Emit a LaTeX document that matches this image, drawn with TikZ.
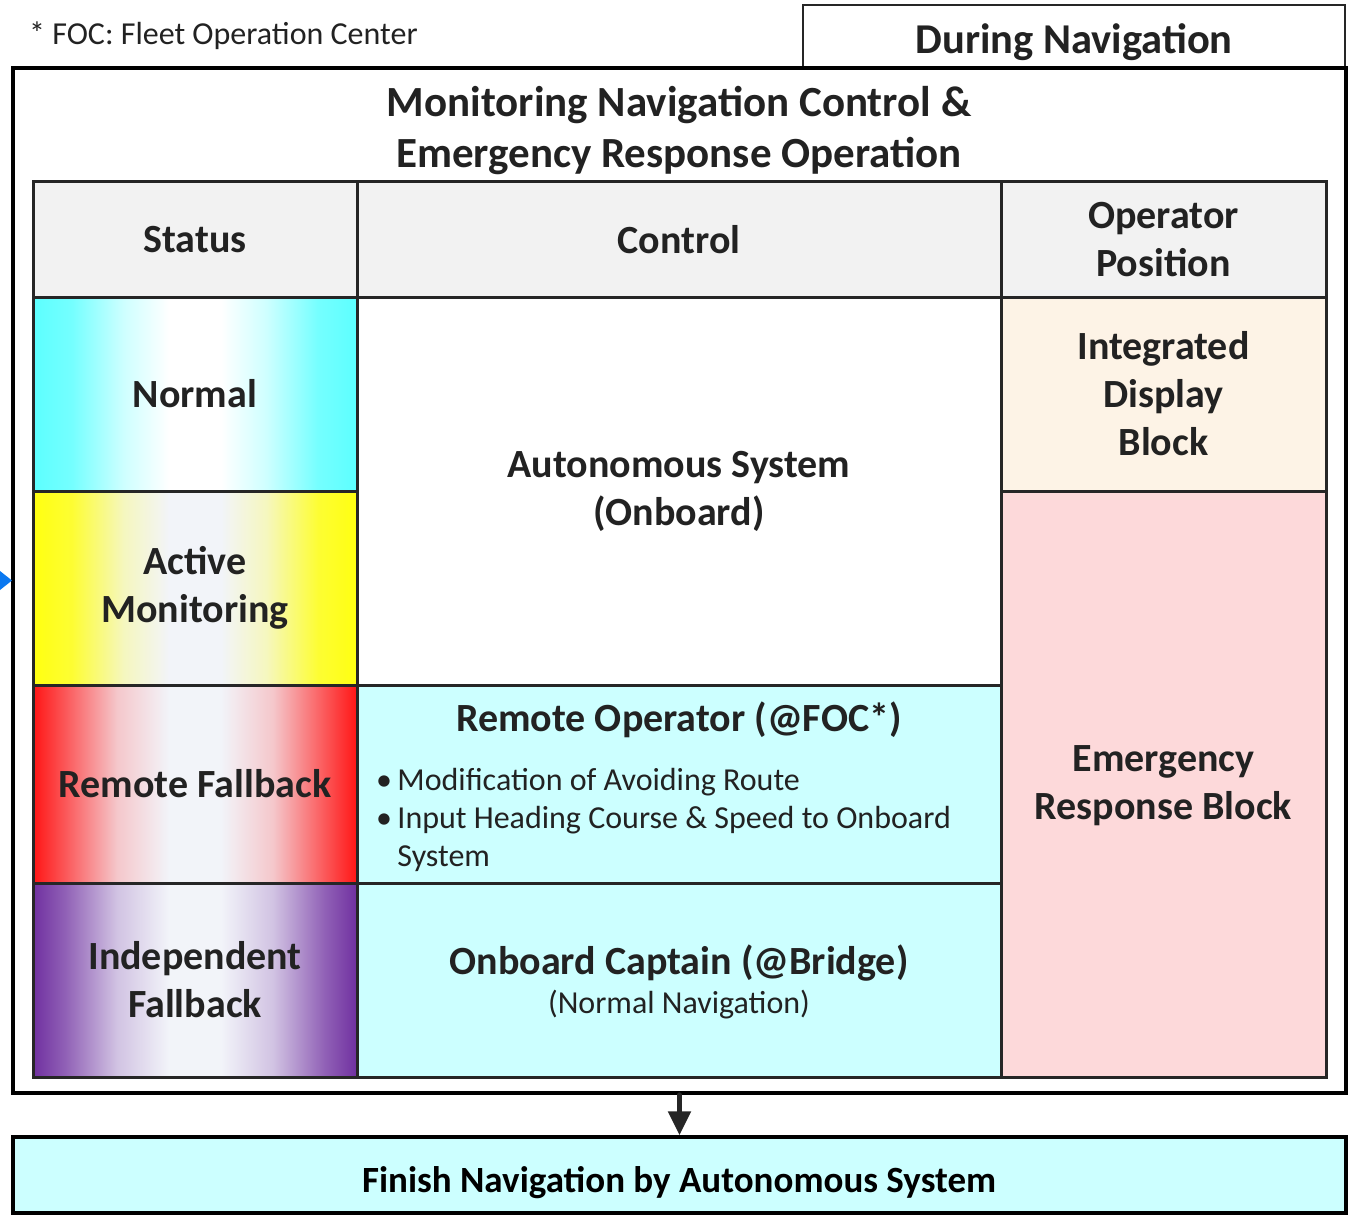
\documentclass[tikz,border=0pt]{standalone}
\usepackage{fontspec}
\setmainfont{Carlito}
\usetikzlibrary{arrows.meta}

\definecolor{txt}{HTML}{222222}
\definecolor{gridcol}{HTML}{262626}
\definecolor{hdrfill}{HTML}{F2F2F2}
\definecolor{aqua}{HTML}{CCFFFF}
\definecolor{peach}{HTML}{FDF3E6}
\definecolor{pinkfill}{HTML}{FDD9DA}
\definecolor{cyanedge}{HTML}{5CFFFF}
\definecolor{yellowedge}{HTML}{FFFF10}
\definecolor{rededge}{HTML}{FF1515}
\definecolor{purpleedge}{HTML}{7030A0}
\definecolor{paleblue}{HTML}{F2F4F9}
\definecolor{tipblue}{HTML}{0A78F0}

% horizontal fades: strong colour at both edges, pale in the middle
\pgfdeclarehorizontalshading{normalfade}{100bp}{color(0bp)=(cyanedge); color(25bp)=(cyanedge); color(31bp)=(cyanedge!85!white); color(39bp)=(cyanedge!30!white); color(46bp)=(white); color(54bp)=(white); color(61bp)=(cyanedge!30!white); color(69bp)=(cyanedge!85!white); color(75bp)=(cyanedge); color(100bp)=(cyanedge)}
\pgfdeclarehorizontalshading{activefade}{100bp}{color(0bp)=(yellowedge); color(25bp)=(yellowedge); color(31bp)=(yellowedge!85!paleblue); color(39bp)=(yellowedge!25!paleblue); color(46bp)=(paleblue); color(54bp)=(paleblue); color(61bp)=(yellowedge!25!paleblue); color(69bp)=(yellowedge!85!paleblue); color(75bp)=(yellowedge); color(100bp)=(yellowedge)}
\pgfdeclarehorizontalshading{remotefade}{100bp}{color(0bp)=(rededge); color(25bp)=(rededge); color(30bp)=(rededge!70!paleblue); color(38bp)=(rededge!20!paleblue); color(46bp)=(paleblue); color(54bp)=(paleblue); color(62bp)=(rededge!20!paleblue); color(70bp)=(rededge!70!paleblue); color(75bp)=(rededge); color(100bp)=(rededge)}
\pgfdeclarehorizontalshading{indepfade}{100bp}{color(0bp)=(purpleedge); color(25bp)=(purpleedge); color(30bp)=(purpleedge!75!paleblue); color(38bp)=(purpleedge!25!paleblue); color(46bp)=(paleblue); color(54bp)=(paleblue); color(62bp)=(purpleedge!25!paleblue); color(70bp)=(purpleedge!75!paleblue); color(75bp)=(purpleedge); color(100bp)=(purpleedge)}

\newcommand{\boldtext}{\fontsize{40}{48}\selectfont\bfseries}
\newcommand{\titletext}{\fontsize{43}{51}\selectfont\bfseries}
\newcommand{\plaintext}{\fontsize{32}{38}\selectfont}

\tikzset{
  cell/.style={draw=gridcol, line width=3pt, inner sep=0pt, align=center,
               font=\boldtext, text=txt},
  plainlabel/.style={inner sep=0pt, align=left, font=\plaintext, text=txt},
  boldlabel/.style={inner sep=0pt, align=center, font=\boldtext, text=txt},
  flowarrow/.style={draw=gridcol, line width=5pt, line cap=round,
                    -{Triangle[width=22pt,length=24pt]}}
}

\begin{document}
\begin{tikzpicture}[x=1pt, y=-1pt]
\useasboundingbox (0,0) rectangle (1357,1217);

% footnote and phase tab
\node[plainlabel, anchor=west] (note) at (29,36) {* FOC: Fleet Operation Center};
\node[draw=gridcol, line width=2.5pt, minimum width=542pt, minimum height=62pt,
      inner sep=0pt] (phase) at (1074,36) {};
\node[boldlabel, font=\fontsize{42.5}{48}\selectfont\bfseries] (phasetext) at (1074,42) {During Navigation};

% outer frame
\node[draw=black, line width=3.5pt, minimum width=1333pt, minimum height=1025pt,
      inner sep=0pt] (frame) at (679.5,580.5) {};
\node[boldlabel, font=\titletext] (title) at (679,131) {Monitoring Navigation Control \&\\Emergency Response Operation};

% header row
\node[cell, fill=hdrfill, minimum width=324pt, minimum height=115pt] (hstatus) at (195,239.5) {Status};
\node[cell, fill=hdrfill, minimum width=644pt, minimum height=115pt] (hcontrol) at (679,239.5) {Control};
\node[cell, fill=hdrfill, minimum width=325pt, minimum height=115pt] (hoperator) at (1163.5,239.5) {Operator\\Position};

% status column
\node[cell, shading=normalfade, minimum width=324pt, minimum height=194pt] (normal) at (195,394) {Normal};
\node[cell, shading=activefade, minimum width=324pt, minimum height=194pt] (active) at (195,588) {Active\\Monitoring};
\node[cell, shading=remotefade, minimum width=324pt, minimum height=198pt] (remote) at (195,784) {Remote Fallback};
\node[cell, shading=indepfade, minimum width=324pt, minimum height=194pt] (indep) at (195,980) {Independent\\Fallback};

% control column
\node[cell, fill=white, minimum width=644pt, minimum height=388pt] (auto) at (679,491) {Autonomous System\\(Onboard)};
\node[cell, fill=aqua, minimum width=644pt, minimum height=198pt] (remop) at (679,784) {};
\node[boldlabel] (remoptitle) at (679,720) {Remote Operator (@FOC*)};
\node[plainlabel, anchor=base west] (itemone) at (376,790)
  {\textbullet\,Modification of Avoiding Route};
\node[plainlabel, anchor=base west] (itemtwo) at (376,828)
  {\textbullet\,Input Heading Course \& Speed to Onboard};
\node[plainlabel, anchor=base west] (itemtwomore) at (376,866)
  {\hphantom{\textbullet\,}System};
\node[cell, fill=aqua, minimum width=644pt, minimum height=194pt] (captain) at (679,980) {};
\node[boldlabel] (captaintitle) at (679,963) {Onboard Captain (@Bridge)};
\node[plainlabel] (captainnote) at (679,1005) {(Normal Navigation)};

% operator position column
\node[cell, fill=peach, minimum width=325pt, minimum height=194pt] (idb) at (1163.5,394) {Integrated\\Display\\Block};
\node[cell, fill=pinkfill, minimum width=325pt, minimum height=586pt] (erb) at (1163.5,784) {};
\node[boldlabel] (erbtext) at (1163.5,786) {Emergency\\Response Block};

% final step
\node[draw=black, line width=3.5pt, fill=aqua, minimum width=1333pt, minimum height=76pt,
      inner sep=0pt] (finish) at (679.5,1175) {};
\node[boldlabel, font=\fontsize{37}{44}\selectfont\bfseries, text=black] (finishtext) at (679,1183) {Finish Navigation by Autonomous System};
\draw[flowarrow] (frame.south) -- (finish.north);

% incoming arrow tip at the left edge
\fill[tipblue] (0,571) -- (12,580.5) -- (0,590) -- cycle;
\end{tikzpicture}
\end{document}
